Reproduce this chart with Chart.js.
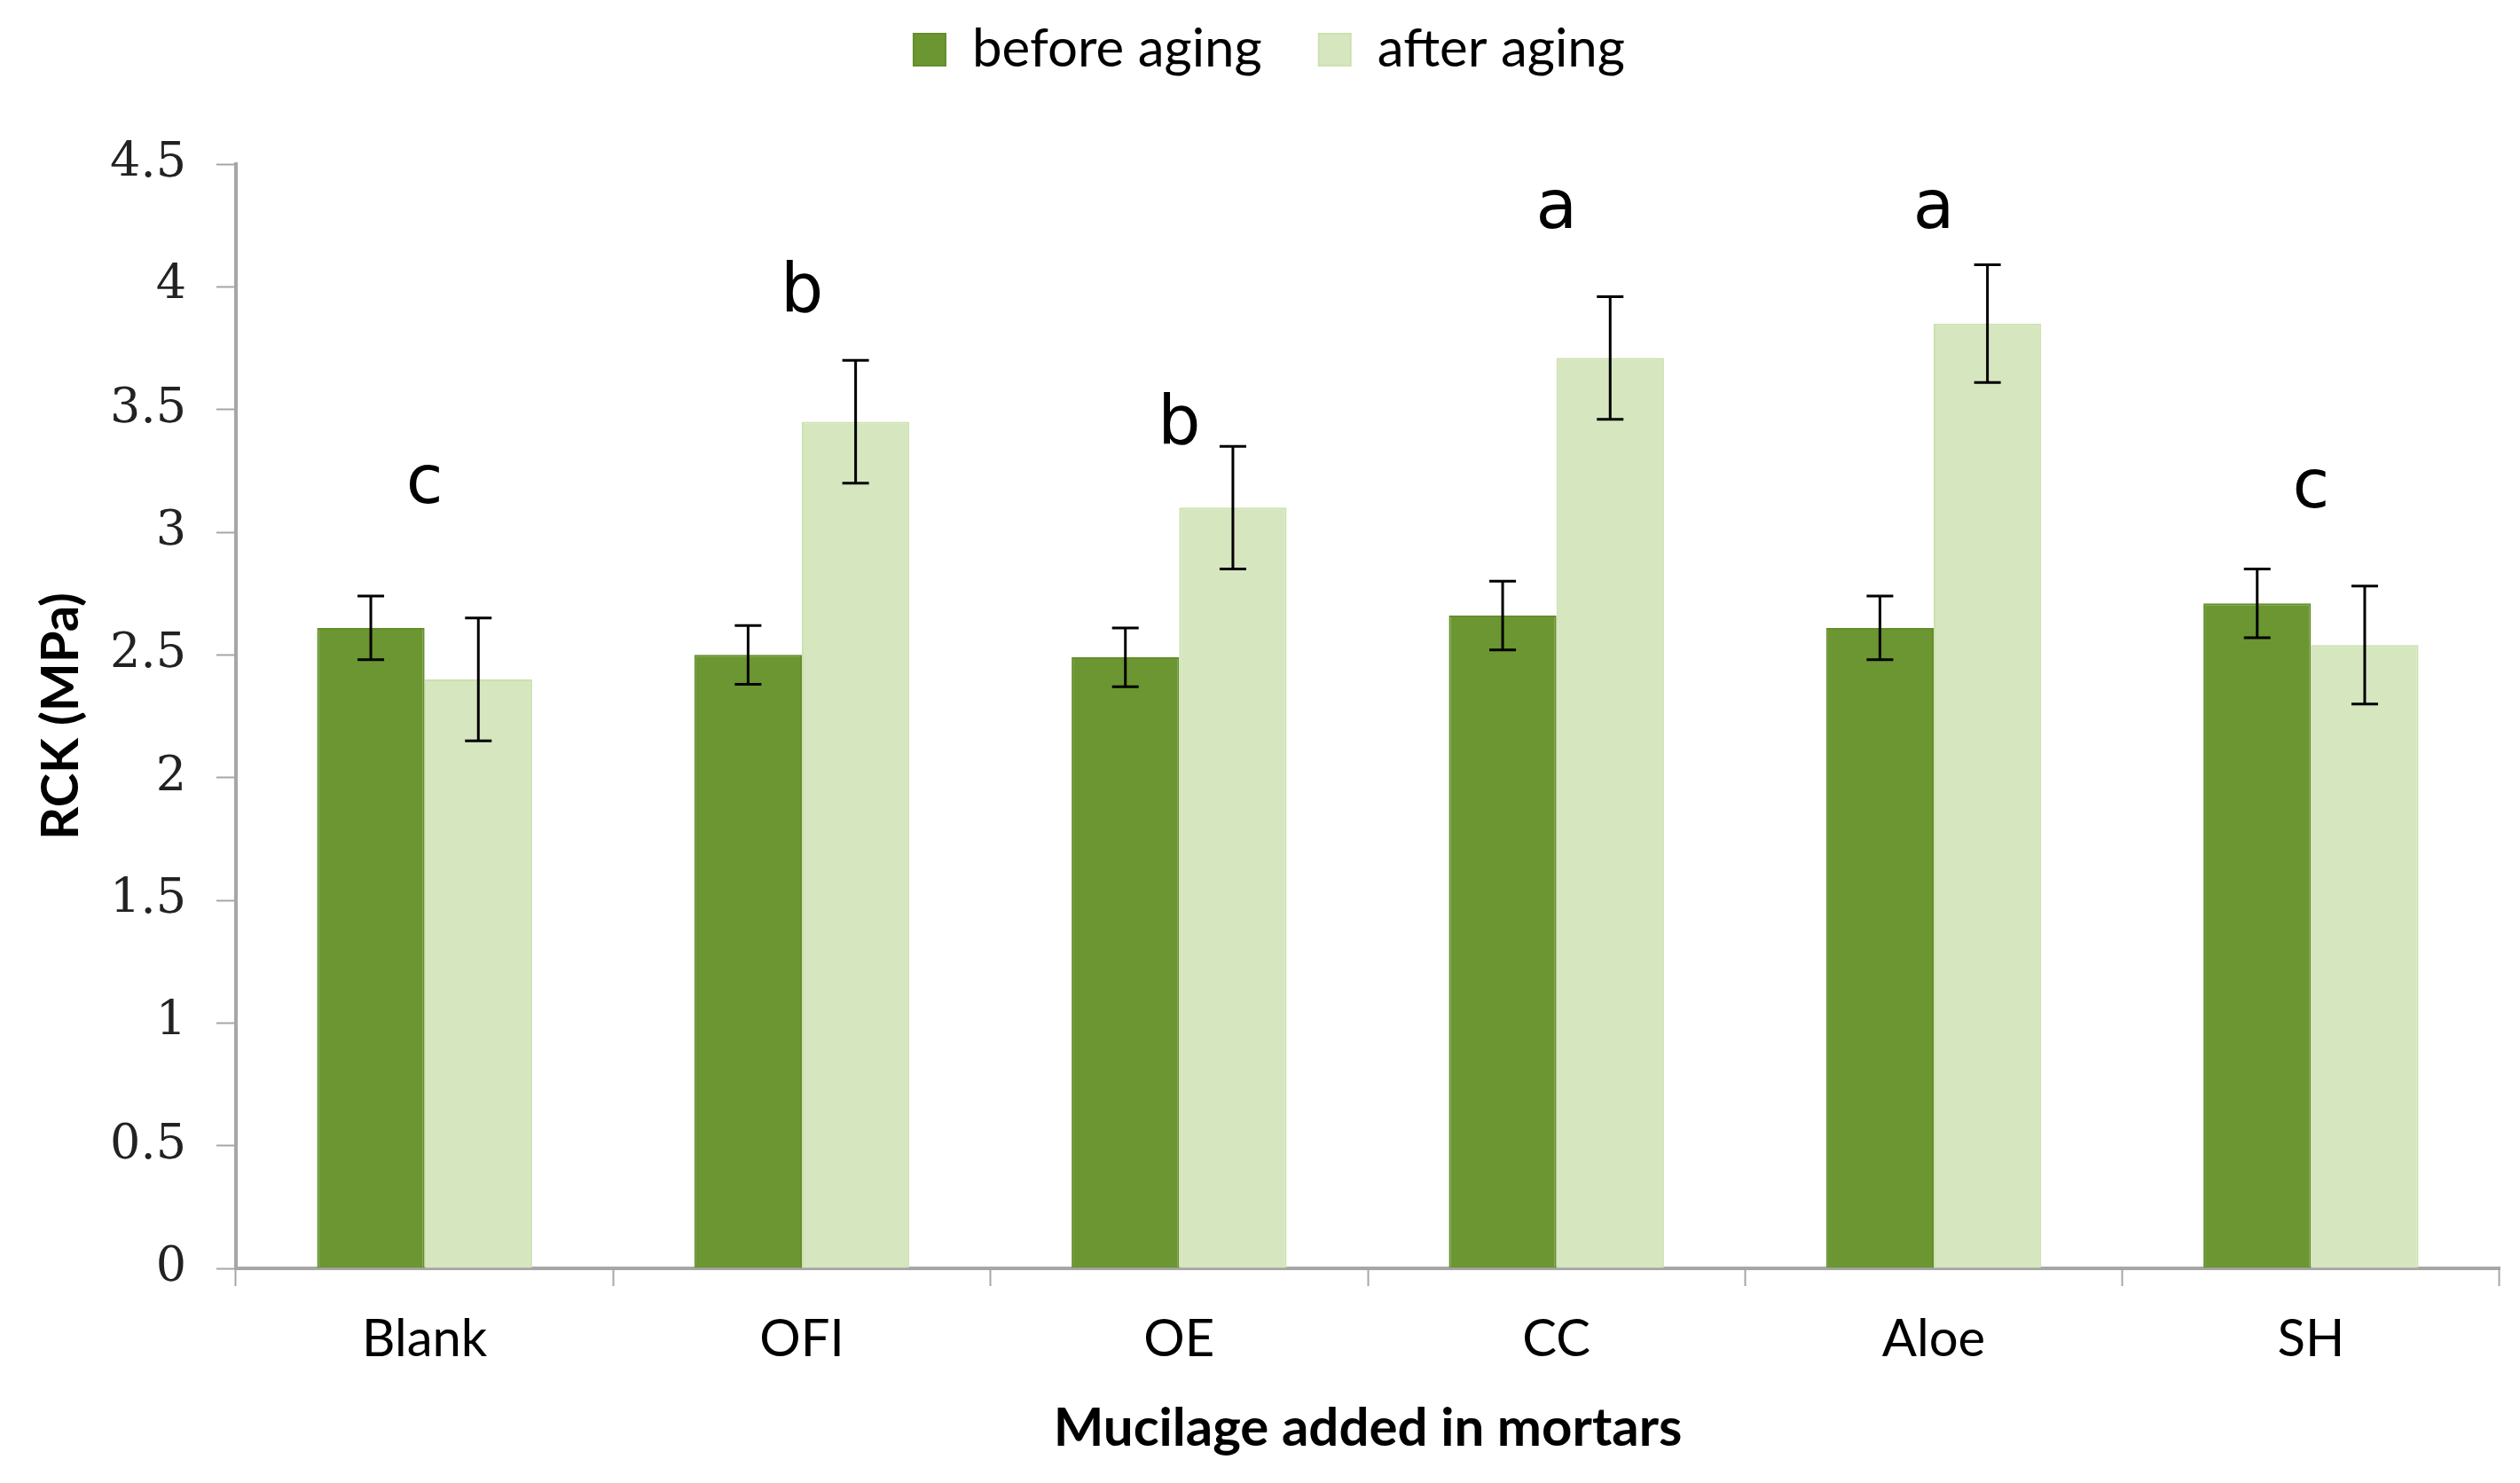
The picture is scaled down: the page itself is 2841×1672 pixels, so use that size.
<!DOCTYPE html>
<html>
<head>
<meta charset="utf-8">
<script src="https://cdn.jsdelivr.net/npm/chart.js@4.4.1/dist/chart.umd.min.js"></script>
<style>
  html, body { margin: 0; padding: 0; background: #fff; }
</style>
</head>
<body>
<canvas id="chart" width="2841" height="1672"></canvas>
<script>
// Data.
var categories = ['Blank', 'OFI', 'OE', 'CC', 'Aloe', 'SH'];
var beforeAging = [2.61, 2.50, 2.49, 2.66, 2.61, 2.71];
var beforeErr = [0.13, 0.12, 0.12, 0.14, 0.13, 0.14];
var afterAging = [2.40, 3.45, 3.10, 3.71, 3.85, 2.54];
var afterErr = [0.25, 0.25, 0.25, 0.25, 0.24, 0.24];
var groupLetters = ['c', 'b', 'b', 'a', 'a', 'c'];
var letterLevels = [3.12, 3.90, 3.36, 4.24, 4.24, 3.10];
var yTicks = [0, 0.5, 1, 1.5, 2, 2.5, 3, 3.5, 4, 4.5];

var errors = [beforeErr, afterErr];

// Fix the legend band height so the plot starts where it does in the reference.
var legendBand = {
    id: 'legendBand',
    beforeInit: function(chart) {
        var origFit = chart.legend.fit;
        chart.legend.fit = function() {
            origFit.call(this);
            this.height = 185;
        };
    },
    afterLayout: function(chart) {
        var lg = chart.legend;
        lg.top = -38;
        lg.left += 22;
        lg.right += 22;
    }
};

// Error bars drawn from the y scale.
var errorBars = {
    id: 'errorBars',
    afterDatasetsDraw: function(chart) {
        var ctx = chart.ctx;
        var y = chart.scales.y;
        ctx.save();
        ctx.strokeStyle = '#000';
        ctx.lineWidth = 3;
        chart.data.datasets.forEach(function(ds, di) {
            var meta = chart.getDatasetMeta(di);
            meta.data.forEach(function(bar, i) {
                var v = ds.data[i];
                var e = errors[di][i];
                var yTop = y.getPixelForValue(v + e);
                var yBot = y.getPixelForValue(v - e);
                var cap = 15;
                ctx.beginPath();
                ctx.moveTo(bar.x, yTop);
                ctx.lineTo(bar.x, yBot);
                ctx.moveTo(bar.x - cap, yTop);
                ctx.lineTo(bar.x + cap, yTop);
                ctx.moveTo(bar.x - cap, yBot);
                ctx.lineTo(bar.x + cap, yBot);
                ctx.stroke();
            });
        });
        ctx.restore();
    }
};

// Significance letters above each group.
var groupLabels = {
    id: 'groupLabels',
    afterDatasetsDraw: function(chart) {
        var ctx = chart.ctx;
        var x = chart.scales.x;
        var y = chart.scales.y;
        ctx.save();
        ctx.fillStyle = '#000';
        ctx.font = '76px "DejaVu Sans"';
        ctx.textAlign = 'center';
        ctx.textBaseline = 'alphabetic';
        groupLetters.forEach(function(letter, i) {
            ctx.fillText(letter, x.getPixelForValue(i), y.getPixelForValue(letterLevels[i]));
        });
        ctx.restore();
    }
};

var ctx = document.getElementById('chart').getContext('2d');
new Chart(ctx, {
    type: 'bar',
    data: {
        labels: categories,
        datasets: [
            {
                label: 'before aging',
                data: beforeAging,
                backgroundColor: '#6b9631',
                borderColor: '#648e2d',
                borderWidth: 2,
                categoryPercentage: 0.57,
                barPercentage: 1.0
            },
            {
                label: 'after aging',
                data: afterAging,
                backgroundColor: '#d6e6bf',
                borderColor: '#cce1b0',
                borderWidth: 2,
                categoryPercentage: 0.57,
                barPercentage: 1.0
            }
        ]
    },
    options: {
        responsive: false,
        devicePixelRatio: 1,
        animation: false,
        layout: {
            padding: { left: 0, right: 23, top: 0, bottom: 0 }
        },
        plugins: {
            legend: {
                position: 'top',
                labels: {
                    boxWidth: 36,
                    boxHeight: 36,
                    padding: 64,
                    color: '#000',
                    font: { family: 'Lato', size: 60 }
                }
            },
            tooltip: { enabled: false }
        },
        scales: {
            x: {
                grid: {
                    offset: true,
                    drawOnChartArea: false,
                    drawTicks: true,
                    tickLength: 20,
                    tickColor: '#a6a6a6',
                    tickWidth: 2
                },
                border: { color: '#a6a6a6', width: 4 },
                ticks: {
                    color: '#000',
                    padding: 25,
                    font: { family: 'Lato', size: 58 }
                },
                title: {
                    display: true,
                    text: 'Mucilage added in mortars',
                    color: '#000',
                    font: { family: 'Lato', size: 60, weight: 'bold' },
                    padding: { top: 0, bottom: 25 }
                },
                afterFit: function(scale) {
                    scale.height = 242;
                }
            },
            y: {
                min: 0,
                max: 4.5,
                afterBuildTicks: function(axis) {
                    axis.ticks = yTicks.map(function(v) { return { value: v }; });
                },
                grid: {
                    drawOnChartArea: false,
                    drawTicks: true,
                    tickLength: 22,
                    tickColor: '#a6a6a6',
                    tickWidth: 2
                },
                border: { color: '#a6a6a6', width: 4 },
                ticks: {
                    color: '#222',
                    padding: 34,
                    font: { family: 'DejaVu Serif', size: 54 },
                    callback: function(value) {
                        return String(value);
                    }
                },
                title: {
                    display: true,
                    text: 'RCK (MPa)',
                    color: '#000',
                    font: { family: 'Lato', size: 58, weight: 'bold' },
                    padding: { top: 34, bottom: 0 }
                },
                afterFit: function(scale) {
                    scale.width = 266;
                }
            }
        }
    },
    plugins: [legendBand, errorBars, groupLabels]
});
</script>
</body>
</html>
